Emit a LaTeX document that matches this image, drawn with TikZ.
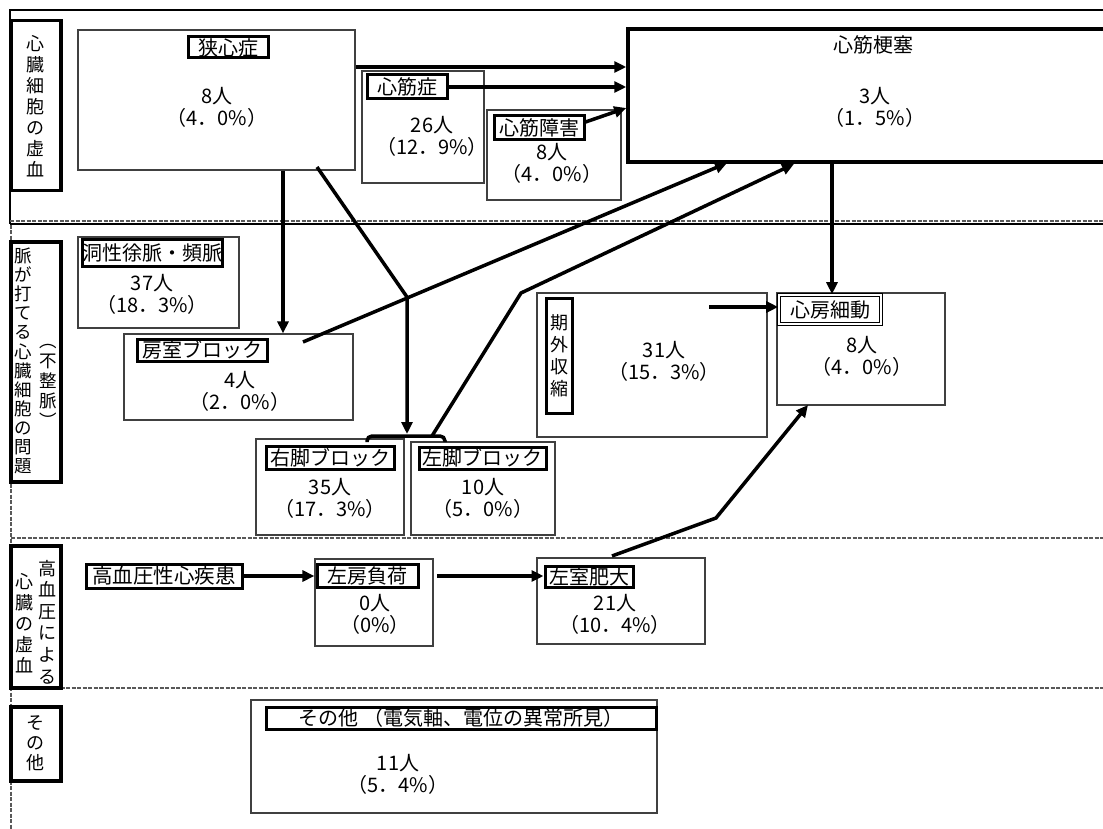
\documentclass[tikz,border=0pt]{standalone}
\usepackage{fontspec}
\setmainfont{Noto Sans CJK JP}
\usetikzlibrary{arrows.meta}
\begin{document}
\begin{tikzpicture}[x=1pt,y=-1pt,
  cbox/.style={draw=black!75, line width=1.2pt, inner sep=0pt},
  lab/.style={draw=black, line width=3pt, inner sep=0pt, font=\fontsize{20}{22}\selectfont},
  sidebox/.style={draw=black, line width=3.5pt, inner sep=0pt, minimum width=50pt},
  vtxt/.style={align=center, inner sep=0pt, font=\fontsize{18}{21}\selectfont},
  valtxt/.style={align=center, inner sep=0pt, font=\fontsize{20}{22}\selectfont},
  arr/.style={line width=3.5pt, -{Triangle[length=12pt,width=11pt]}},
  seg/.style={line width=3.5pt},
  sepline/.style={draw=black!65, line width=1.6pt, dash pattern=on 4pt off 1.5pt}
]
\fill[white] (0,0) rectangle (1103,829);
\useasboundingbox (0,0) rectangle (1103,829);

% frame and separators
\draw[line width=2.2pt] (1103,10) -- (10,10) -- (10,224);
\draw[sepline] (10,221) -- (1103,221);
\draw[line width=2pt] (10,224) -- (1103,224);
\draw[sepline] (11,538) -- (1103,538);
\draw[sepline] (11,688) -- (1103,688);
\draw[sepline] (11,225) -- (11,829);

% side labels
\node[sidebox, minimum height=170pt] (s1) at (36,105.5) {};
\node[vtxt] (s1t) at (36,106.5) {心\\臓\\細\\胞\\の\\虚\\血};
\node[sidebox, minimum height=240pt] (s2) at (36,362) {};
\node[vtxt, font=\fontsize{17.5}{19.1}\selectfont] (s2a) at (23,361) {脈\\が\\打\\て\\る\\心\\臓\\細\\胞\\の\\問\\題};
\node[vtxt, font=\fontsize{17.5}{20}\selectfont] (s2b) at (48,386) {︵\\不\\整\\脈\\︶};
\node[sidebox, minimum height=142pt] (s3) at (36,617) {};
\node[vtxt, font=\fontsize{18}{21.6}\selectfont] (s3a) at (47,622) {高\\血\\圧\\に\\よ\\る};
\node[vtxt] (s3b) at (24,623.5) {心\\臓\\の\\虚\\血};
\node[sidebox, minimum height=74pt] (s4) at (36,744) {};
\node[vtxt, font=\fontsize{18}{20}\selectfont] (s4t) at (36,743) {そ\\の\\他};

% main boxes
\node[cbox, minimum width=277pt, minimum height=140pt] (kyo) at (216.5,100) {};
\node[cbox, minimum width=122pt, minimum height=112pt] (sk) at (423,127) {};
\node[cbox, minimum width=134pt, minimum height=90pt] (skb) at (554,155) {};
\node[draw, line width=3.5pt, inner sep=0pt, minimum width=487pt, minimum height=133pt] (mk) at (871.5,95.5) {};
\node[cbox, minimum width=161pt, minimum height=91pt] (dose) at (158.5,282.5) {};
\node[cbox, minimum width=229pt, minimum height=86pt] (bsh) at (238.5,377) {};
\node[cbox, minimum width=148pt, minimum height=96pt] (ukb) at (330,487) {};
\node[cbox, minimum width=144pt, minimum height=93pt] (skk) at (483,488.5) {};
\node[cbox, minimum width=230pt, minimum height=144pt] (kg) at (652,365) {};
\node[cbox, minimum width=168pt, minimum height=112pt] (af) at (861,349) {};
\node[cbox, minimum width=118pt, minimum height=87pt] (sbf) at (374,602.5) {};
\node[cbox, minimum width=168pt, minimum height=86pt] (sst) at (621,601) {};
\node[cbox, minimum width=406pt, minimum height=113pt] (oth) at (454,756.5) {};

% labels
\node[lab, minimum width=80pt, minimum height=21pt] (lkyo) at (228,47.5) {狭心症};
\node[lab, minimum width=80pt, minimum height=24pt] (lsk) at (407,87) {心筋症\hspace{12pt}};
\node[lab, minimum width=90pt, minimum height=24pt] (lskb) at (539,128) {心筋障害};
\node[valtxt] (lmk) at (873,45) {心筋梗塞};
\node[lab, minimum width=133pt, minimum height=26pt] (ldose) at (152.5,253) {洞性徐脈・頻脈};
\node[lab, minimum width=130pt, minimum height=22pt] (lbsh) at (202,350) {房室ブロック\hspace{8pt}};
\node[lab, minimum width=128pt, minimum height=23pt] (lukb) at (330,457.5) {右脚ブロック};
\node[lab, minimum width=127pt, minimum height=22pt] (lskk) at (482.5,458) {左脚ブロック};
\node[lab, minimum width=26pt, minimum height=115pt, align=center, font=\fontsize{18}{22}\selectfont] (lkg) at (559,355.5) {期\\外\\収\\縮};
\node[draw=black, line width=1.6pt, double=white, double distance=1.2pt, inner sep=0pt, minimum width=102pt, minimum height=29pt, font=\fontsize{20}{22}\selectfont] (laf) at (830,309.5) {心房細動};
\node[lab, minimum width=156pt, minimum height=24pt, font=\fontsize{20.5}{22}\selectfont] (lhbp) at (164,576) {高血圧性心疾患};
\node[lab, minimum width=101pt, minimum height=23pt] (lsbf) at (367.5,575.5) {左房負荷\hspace{12pt}};
\node[lab, minimum width=88pt, minimum height=21pt] (lsst) at (589,576.5) {左室肥大};
\node[lab, minimum width=390pt, minimum height=22pt] (loth) at (461,718) {その他 （電気軸、電位の異常所見）};

% values
\node[valtxt] (vkyo) at (217,107) {8人\\（4．0\%）};
\node[valtxt] (vmk) at (875,107.5) {3人\\（1．5\%）};
\node[valtxt] (vsk) at (432,136.5) {26人\\（12．9\%）};
\node[valtxt] (vskb) at (552,163.5) {8人\\（4．0\%）};
\node[valtxt] (vdose) at (152,294.5) {37人\\（18．3\%）};
\node[valtxt] (vbsh) at (240,391) {4人\\（2．0\%）};
\node[valtxt] (vukb) at (330,498.5) {35人\\（17．3\%）};
\node[valtxt] (vskk) at (483,498.5) {10人\\（5．0\%）};
\node[valtxt] (vkg) at (664,361) {31人\\（15．3\%）};
\node[valtxt] (vaf) at (862,356.5) {8人\\（4．0\%）};
\node[valtxt] (vsbf) at (375,614) {0人\\（0\%）};
\node[valtxt] (vsst) at (615,614) {21人\\（10．4\%）};
\node[valtxt] (voth) at (398,774) {11人\\（5．4\%）};

% connector points
\coordinate (b1) at (303,342);
\coordinate (b2) at (727,163);
\coordinate (k1) at (317,167);
\coordinate (k2) at (407,297);
\coordinate (k3) at (407,434);
\coordinate (l1) at (432,436);
\coordinate (l2) at (521,293);
\coordinate (l3) at (794,164);
\coordinate (h1) at (612,556);
\coordinate (h2) at (716,518);
\coordinate (h3) at (808,405);
\coordinate (r1) at (367,442);
\coordinate (r2) at (367,436);
\coordinate (r3) at (445,436);
\coordinate (r4) at (445,442);
\coordinate (g1) at (709,307);

% arrows
\draw[arr] (kyo.east |- 0,67) -- (mk.west |- 0,67);
\draw[arr] (lsk.east) -- (mk.west |- lsk.east);
\draw[arr] (lskb.east |- 0,122) -- (mk.west |- 0,108);
\draw[arr] (b1) -- (b2);
\draw[arr] (283,0 |- kyo.south) -- (283,0 |- bsh.north);
\draw[arr] (k1) -- (k2) -- (k3);
\draw[seg, rounded corners=5pt] (r1) -- (r2) -- (r3) -- (r4);
\draw[arr] (l1) -- (l2) -- (l3);
\draw[arr] (832,0 |- mk.south) -- (832,0 |- laf.north);
\draw[arr] (g1) -- (laf.west |- g1);
\draw[arr] (h1) -- (h2) -- (h3);
\draw[arr] (lhbp.east) -- (sbf.west |- lhbp.east);
\draw[arr] (437,0 |- lhbp.east) -- (lsst.west |- lhbp.east);
\end{tikzpicture}
\end{document}
